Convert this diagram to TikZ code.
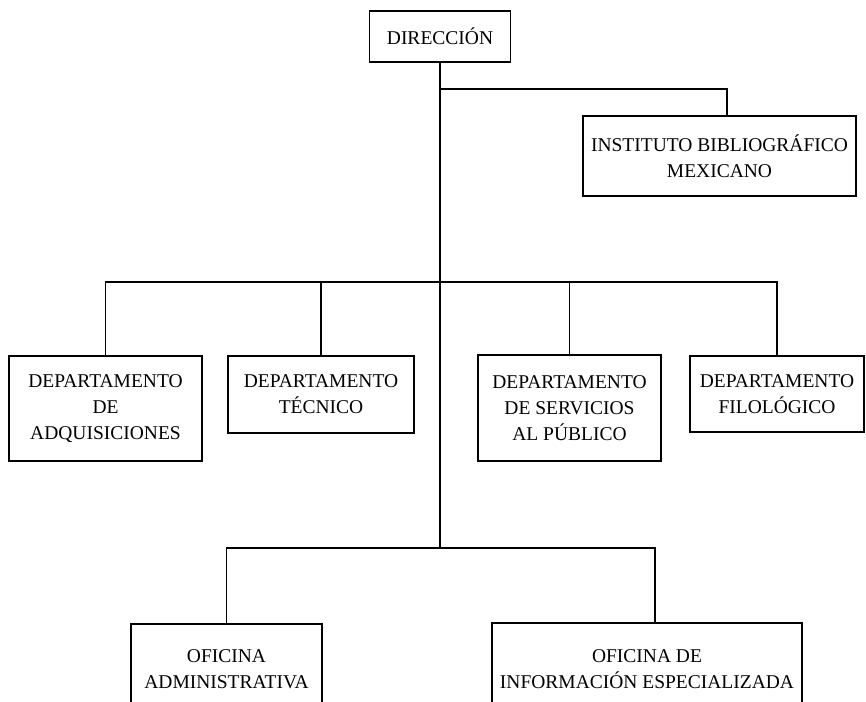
\documentclass[tikz,border=0pt]{standalone}
\usepackage{fontspec}
\setmainfont{Liberation Serif}
\usepackage{tikz}
\usetikzlibrary{positioning}
\def\lw{1.4pt}
\tikzset{orgbox/.style={draw,rectangle,line width=\lw,align=center,inner sep=0pt,font=\fontsize{19.5}{26}\selectfont},
	link/.style={line width=\lw}}
\newcommand{\orgnode}[6]{\node[orgbox,minimum width=#3pt,minimum height=#4pt] (#5) at (#1,#2) {#6};}

\begin{document}
\begin{tikzpicture}[x=1pt,y=-1pt]
				\useasboundingbox (0,0) rectangle (866,701);
				\clip (0,0) rectangle (866,701);
				\orgnode{440}{36.5}{141}{51}{dir}{DIRECCIÓN}
				\orgnode{719.5}{156}{273}{80}{inst}{INSTITUTO BIBLIOGRÁFICO\\MEXICANO}
				\orgnode{105.5}{408.5}{193}{105}{adq}{DEPARTAMENTO\\DE\\ADQUISICIONES}
				\orgnode{321}{394.5}{186}{77}{tec}{DEPARTAMENTO\\TÉCNICO}
				\orgnode{569.5}{408}{183}{106}{pub}{DEPARTAMENTO\\DE SERVICIOS\\AL PÚBLICO}
				\orgnode{777}{394}{174}{76}{fil}{DEPARTAMENTO\\FILOLÓGICO}
				\orgnode{226.5}{669}{191}{90}{adm}{OFICINA\\ADMINISTRATIVA}
				\orgnode{647}{669}{310}{92}{esp}{OFICINA DE\\INFORMACIÓN ESPECIALIZADA}

				\coordinate (instjoin) at (440,89);
				\coordinate (deptjoin) at (440,282);
				\coordinate (ofijoin) at (440,548);

				\draw[link] (dir.south) -- (ofijoin);
				\draw[link] (instjoin) -| ([xshift=7.5pt]inst.north);
				\draw[link] (adq.north) |- (deptjoin) -| (fil.north);
				\draw[link] (tec.north) -- (tec.north |- deptjoin);
				\draw[link] (pub.north) -- (pub.north |- deptjoin);
				\draw[link] (adm.north) |- (ofijoin) -| ([xshift=8pt]esp.north);
			\end{tikzpicture}
\end{document}
